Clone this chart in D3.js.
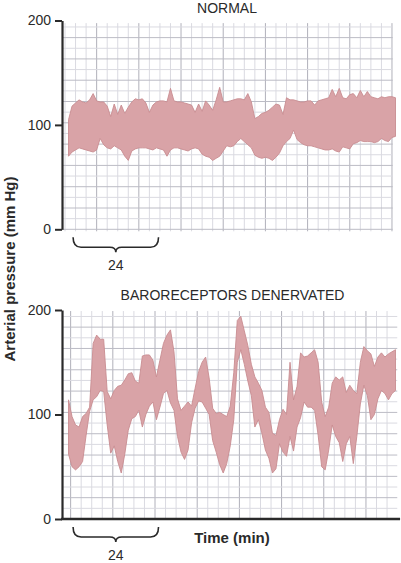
<!DOCTYPE html>
<html>
<head>
<meta charset="utf-8">
<script src="https://cdn.jsdelivr.net/npm/d3@7"></script>
<style>
  body { margin: 0; background: #fff; }
  svg text { font-family: "Liberation Sans", Arial, Helvetica, sans-serif; fill: #2a2a2a; }
</style>
</head>
<body>
<div id="chart"></div>
<script>
// sample times (min), one reading per minute
const minutes = [
  1, 2, 3, 4, 5, 6, 7, 8, 9, 10, 11, 12, 13, 14, 15, 16, 17, 18, 19, 20,
  21, 22, 23, 24, 25, 26, 27, 28, 29, 30, 31, 32, 33, 34, 35, 36, 37, 38, 39, 40,
  41, 42, 43, 44, 45, 46, 47, 48, 49, 50, 51, 52, 53, 54, 55, 56, 57, 58, 59, 60,
  61, 62, 63, 64, 65, 66, 67, 68, 69, 70, 71, 72, 73, 74, 75, 76, 77, 78, 79, 80,
  81, 82, 83, 84, 85, 86, 87, 88, 89, 90, 91, 92, 93, 94
];

// normal: systolic / diastolic envelope (mm Hg)
const normalHigh = [
  105, 118, 121, 124, 122, 121, 124, 130, 123, 122,
  122, 118, 108, 120, 110, 119, 111, 117, 122, 125,
  124, 125, 121, 112, 119, 122, 123, 123, 122, 135,
  123, 122, 122, 121, 120, 119, 112, 120, 113, 123,
  119, 114, 124, 136, 122, 122, 123, 124, 125, 125,
  124, 130, 122, 106, 108, 111, 112, 114, 117, 120,
  119, 110, 126, 124, 124, 123, 122, 122, 123, 123,
  119, 123, 124, 125, 126, 134, 127, 135, 126, 125,
  129, 130, 126, 133, 127, 132, 127, 126, 125, 127,
  126, 127, 127, 126
];
const normalLow = [
  70, 74, 76, 78, 77, 76, 75, 74, 76, 87,
  81, 78, 77, 80, 78, 76, 70, 66, 75, 77,
  78, 78, 78, 77, 76, 78, 77, 76, 70, 76,
  78, 78, 77, 76, 75, 77, 78, 77, 72, 70,
  69, 66, 68, 70, 75, 80, 79, 80, 84, 87,
  84, 81, 78, 71, 69, 68, 69, 68, 66, 69,
  73, 80, 84, 87, 95, 86, 83, 81, 80, 80,
  79, 78, 77, 76, 76, 77, 75, 74, 79, 78,
  77, 82, 83, 85, 84, 84, 84, 83, 84, 87,
  85, 84, 88, 89
];

// baroreceptors denervated
const denervHigh = [
  114, 98, 90, 88, 98, 101, 107, 168, 176, 172,
  172, 122, 115, 123, 127, 128, 133, 139, 140, 132,
  130, 156, 157, 157, 152, 136, 152, 168, 176, 181,
  160, 115, 104, 108, 112, 108, 125, 141, 150, 155,
  135, 106, 101, 102, 100, 98, 108, 140, 190, 194,
  180, 166, 148, 136, 130, 123, 107, 102, 82, 80,
  95, 105, 100, 150, 114, 127, 159, 155, 156, 159,
  162, 150, 112, 98, 107, 130, 136, 133, 136, 121,
  128, 123, 120, 150, 165, 161, 158, 146, 155, 159,
  155, 158, 160, 162
];
const denervLow = [
  62, 50, 47, 50, 55, 80, 103, 114, 117, 123,
  122, 90, 63, 70, 55, 44, 62, 85, 96, 98,
  104, 88, 100, 108, 112, 95, 107, 120, 123, 111,
  104, 79, 64, 57, 66, 92, 106, 113, 112, 106,
  100, 75, 64, 52, 44, 53, 70, 95, 150, 162,
  148, 132, 118, 88, 95, 82, 66, 58, 44, 48,
  72, 64, 60, 79, 65, 88, 97, 112, 107, 107,
  104, 80, 50, 47, 66, 90, 79, 73, 55, 72,
  79, 53, 79, 110, 128, 118, 95, 100, 115, 123,
  120, 114, 120, 123
];

const yTicks = [0, 100, 200];
const panelTitles = ["NORMAL", "BARORECEPTORS DENERVATED"];
const braceSpan = [2.3, 26.6];   // minutes
const braceLabel = "24";
const yLabel = "Arterial pressure (mm Hg)";
const xLabel = "Time (min)";

class PressurePanel {
    constructor(svg, xScale, opts) {
        this.svg = svg;
        this.x = xScale;
        this.opts = opts;
        this.init();
    }

    init() {
        this.g = this.svg.append("g");
        this.y = d3.scaleLinear().domain([0, 200]).range(this.opts.yRange);
        this.drawGrid();
        this.drawTrace();
        this.drawAxes();
        this.drawBrace();
    }

    drawGrid() {
        const o = this.opts;
        const grid = this.g.append("g");

        // square chart-paper grid: 3 min x ~10 mm Hg, darker every 12 min / 20 mm Hg
        const vLines = d3.range(0, 32).map(k => ({ t: o.gridStart + 3 * k, major: (k - o.majorK) % 4 === 0 }))
            .filter(d => d.t <= o.gridEnd);
        grid.selectAll("line.v")
            .data(vLines)
            .enter()
            .append("line")
            .attr("x1", d => this.x(d.t))
            .attr("x2", d => this.x(d.t))
            .attr("y1", this.y(0) + o.gridBelow)
            .attr("y2", this.y(o.gridTop))
            .attr("stroke", d => d.major ? "#b0b0ba" : "#dadae1")
            .attr("stroke-width", 1);

        const hLines = d3.range(0, 20).map(k => ({ v: 10.2 * k, major: k % 2 === 0 }));
        grid.selectAll("line.h")
            .data(hLines)
            .enter()
            .append("line")
            .attr("x1", this.x(-0.8))
            .attr("x2", this.x(o.gridRight))
            .attr("y1", d => this.y(d.v))
            .attr("y2", d => this.y(d.v))
            .attr("stroke", d => d.major ? "#bcbcc5" : "#dadae1")
            .attr("stroke-width", 1);
    }

    drawTrace() {
        const o = this.opts;
        const pts = minutes.map((t, i) => ({ t, hi: o.high[i], lo: o.low[i] }));
        const area = d3.area()
            .x(d => this.x(d.t))
            .y0(d => this.y(d.lo))
            .y1(d => this.y(d.hi));

        this.g.append("path")
            .datum(pts)
            .attr("d", area)
            .attr("fill", "#d9a3a7")
            .attr("stroke", "#c88c91")
            .attr("stroke-width", 0.9)
            .attr("stroke-linejoin", "round");
    }

    drawAxes() {
        const o = this.opts;
        const axisX = this.x(-0.85);

        const yAxis = this.g.append("g")
            .attr("transform", `translate(${axisX},0)`)
            .call(d3.axisLeft(this.y).tickValues(yTicks).tickSize(7).tickSizeOuter(0).tickPadding(4));
        yAxis.select(".domain").attr("stroke", "#2a2a2a").attr("stroke-width", 2.2);
        yAxis.selectAll(".tick line").attr("stroke", "#2a2a2a").attr("stroke-width", 2);
        yAxis.selectAll(".tick text")
            .attr("font-size", 14)
            .attr("font-family", "'Liberation Sans', Arial, sans-serif")
            .attr("fill", "#2a2a2a");

        if (o.xAxisLine) {
            this.g.append("line")
                .attr("x1", axisX - 1)
                .attr("x2", this.x(95.3))
                .attr("y1", this.y(0))
                .attr("y2", this.y(0))
                .attr("stroke", "#2a2a2a")
                .attr("stroke-width", 2.4);
        }

        this.g.append("text")
            .attr("x", o.titleX)
            .attr("y", o.titleY)
            .attr("text-anchor", "middle")
            .attr("font-size", 14)
            .text(o.title);
    }

    drawBrace() {
        const x0 = this.x(braceSpan[0]);
        const x1 = this.x(braceSpan[1]);
        const xm = (x0 + x1) / 2;
        const base = this.y(0);
        const yTop = base + 8, yMid = base + 18, yTip = base + 23;

        const p = d3.path();
        p.moveTo(x0, yTop);
        p.quadraticCurveTo(x0, yMid, x0 + 8, yMid);
        p.lineTo(xm - 6, yMid);
        p.quadraticCurveTo(xm, yMid, xm, yTip);
        p.quadraticCurveTo(xm, yMid, xm + 6, yMid);
        p.lineTo(x1 - 8, yMid);
        p.quadraticCurveTo(x1, yMid, x1, yTop);

        this.g.append("path")
            .attr("d", p.toString())
            .attr("fill", "none")
            .attr("stroke", "#2a2a2a")
            .attr("stroke-width", 1.6);

        this.g.append("text")
            .attr("x", xm)
            .attr("y", base + 41)
            .attr("text-anchor", "middle")
            .attr("font-size", 14)
            .text(braceLabel);
    }
}

const width = 401, height = 563;
const svg = d3.select("#chart")
    .append("svg")
    .attr("width", width)
    .attr("height", height);

const xScale = d3.scaleLinear().domain([0, 94]).range([65, 395.5]);

new PressurePanel(svg, xScale, {
    title: panelTitles[0], titleX: 227, titleY: 13,
    high: normalHigh, low: normalLow,
    yRange: [229.3, 20.5],
    gridStart: 0, majorK: 3, gridEnd: 93.2, gridRight: 93.2, gridTop: 197.5, gridBelow: 2,
    xAxisLine: false
});

new PressurePanel(svg, xScale, {
    title: panelTitles[1], titleX: 232.5, titleY: 300,
    high: denervHigh, low: denervLow,
    yRange: [519, 310],
    gridStart: 1.6, majorK: 4, gridEnd: 93.5, gridRight: 94.5, gridTop: 199, gridBelow: 0,
    xAxisLine: true
});

// shared axis titles
svg.append("text")
    .attr("transform", "translate(15,269) rotate(-90)")
    .attr("text-anchor", "middle")
    .attr("font-size", 15)
    .attr("font-weight", "bold")
    .text(yLabel);

svg.append("text")
    .attr("x", 232)
    .attr("y", 543)
    .attr("text-anchor", "middle")
    .attr("font-size", 15)
    .attr("font-weight", "bold")
    .text(xLabel);
</script>
</body>
</html>
